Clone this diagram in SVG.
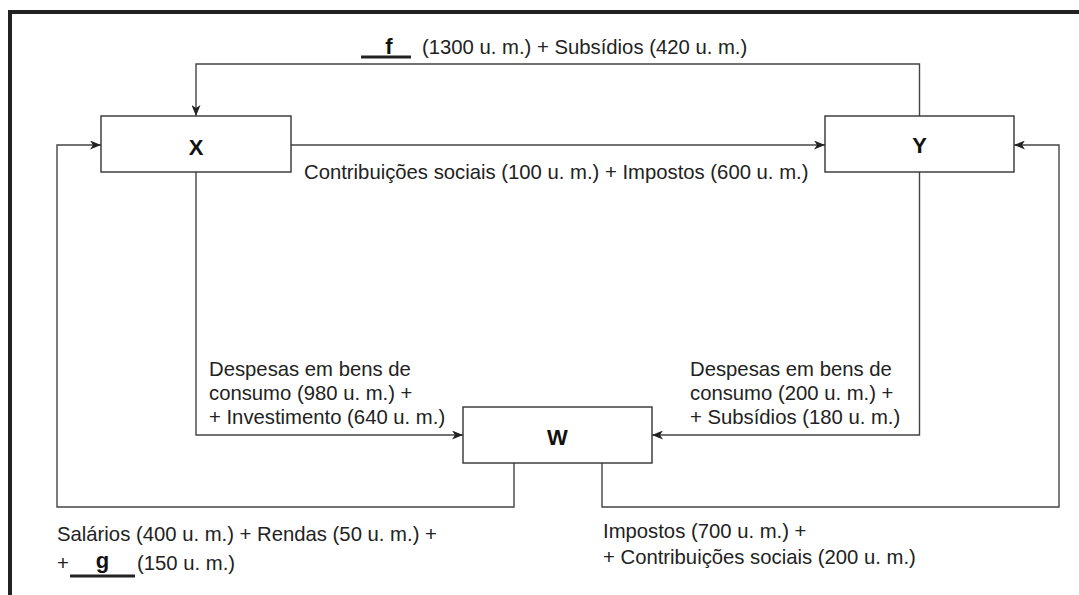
<svg xmlns="http://www.w3.org/2000/svg" width="1079" height="595" viewBox="0 0 1079 595">
<defs>
<marker id="ah" markerWidth="11" markerHeight="9" refX="11" refY="4.5" orient="auto" markerUnits="userSpaceOnUse">
<path d="M0,0 L11,4.5 L0,9 L3,4.5 Z" fill="#222"/>
</marker>
<style>
.box{fill:#fff;stroke:#333;stroke-width:1.4}
.lbl{font-family:"Liberation Sans",Arial,sans-serif;font-size:22px;font-weight:bold;fill:#111;text-anchor:middle}
.t{font-family:"Liberation Sans",Arial,sans-serif;font-size:20.3px;fill:#222}
.b{font-family:"Liberation Sans",Arial,sans-serif;font-size:22px;font-weight:bold;fill:#111;text-anchor:middle}
.c{fill:none;stroke:#444;stroke-width:1.4}
.ul{stroke:#222;stroke-width:3}
.frame{stroke:#222;stroke-width:4;fill:none}
</style>
</defs>
<rect width="1079" height="595" fill="#fff"/>
<path class="frame" d="M8,12 H1079 M10,10 V595"/>
<g id="connectors">
<path class="c" d="M919.5,116 V64 H196 V116" marker-end="url(#ah)"/>
<path class="c" d="M291,145 H825" marker-end="url(#ah)"/>
<path class="c" d="M196,172 V435 H463" marker-end="url(#ah)"/>
<path class="c" d="M919.5,172 V435 H652" marker-end="url(#ah)"/>
<path class="c" d="M514,463 V507 H57 V145 H101" marker-end="url(#ah)"/>
<path class="c" d="M602,463 V507 H1059 V145 H1014" marker-end="url(#ah)"/>
</g>
<g id="node-X">
<rect class="box" x="101" y="116" width="190" height="56"/>
<text class="lbl" x="196" y="155">X</text>
</g>
<g id="node-Y">
<rect class="box" x="825" y="116" width="189" height="56"/>
<text class="lbl" x="919.5" y="153">Y</text>
</g>
<g id="node-W">
<rect class="box" x="463" y="407" width="189" height="56"/>
<text class="lbl" x="557.5" y="445">W</text>
</g>
<g id="labels">
<line class="ul" x1="361" y1="57" x2="411" y2="57"/>
<text class="b" x="389" y="54">f</text>
<text class="t" x="422" y="54">(1300 u. m.) + Subsídios (420 u. m.)</text>
<text class="t" x="304" y="179">Contribuições sociais (100 u. m.) + Impostos (600 u. m.)</text>
<text class="t" x="209" y="376">Despesas em bens de</text>
<text class="t" x="209" y="400">consumo (980 u. m.) +</text>
<text class="t" x="209" y="424">+ Investimento (640 u. m.)</text>
<text class="t" x="690" y="376">Despesas em bens de</text>
<text class="t" x="690" y="400">consumo (200 u. m.) +</text>
<text class="t" x="690" y="424">+ Subsídios (180 u. m.)</text>
<text class="t" x="57" y="541">Salários (400 u. m.) + Rendas (50 u. m.) +</text>
<text class="t" x="57" y="570">+</text>
<line class="ul" x1="70" y1="576" x2="135" y2="576"/>
<text class="b" x="102.5" y="568">g</text>
<text class="t" x="137" y="570">(150 u. m.)</text>
<text class="t" x="603" y="538">Impostos (700 u. m.) +</text>
<text class="t" x="603" y="564">+ Contribuições sociais (200 u. m.)</text>
</g>
</svg>
